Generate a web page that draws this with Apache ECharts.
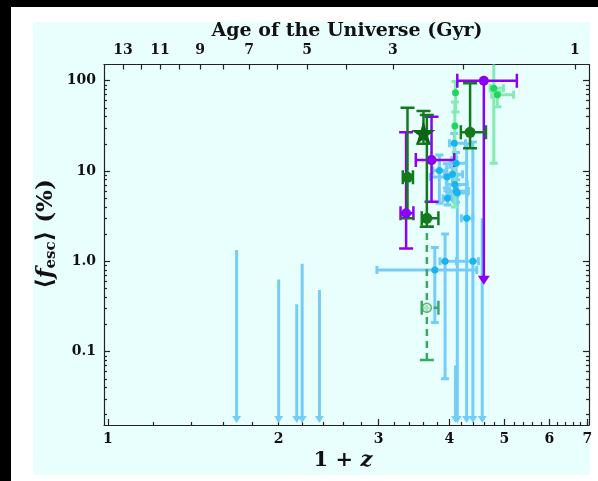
<!DOCTYPE html>
<html><head><meta charset="utf-8">
<script src="https://cdn.jsdelivr.net/npm/echarts@6/dist/echarts.min.js"></script>
<style>html,body{margin:0;padding:0;background:#000;}#bgw{position:absolute;left:11px;top:7px;width:587px;height:474px;background:#fff;}#bgc{position:absolute;left:33px;top:22px;width:557px;height:453px;background:#e8fffe;}#c{position:absolute;left:0;top:0;width:598px;height:481px;}</style>
</head><body><div id="bgw"></div><div id="bgc"></div><div id="c"></div>
<script>
// ---- data ----
const xMajor = [1, 2, 3, 4, 5, 6, 7];
const xMinor = [1.2,1.4,1.6,1.8,2.2,2.4,2.6,2.8,3.2,3.4,3.6,3.8,4.2,4.4,4.6,4.8,5.2,5.4,5.6,5.8,6.2,6.4,6.6,6.8,7.0];
const yMajor = [0.1, 1, 10, 100];
const yMinor = [0.02,0.03,0.04,0.05,0.06,0.07,0.08,0.09,0.2,0.3,0.4,0.5,0.6,0.7,0.8,0.9,2,3,4,5,6,7,8,9,20,30,40,50,60,70,80,90];
const ageValues = [13, 12, 11, 10, 9, 8, 7, 6, 5, 4, 3, 2, 1];
const ageAt1pz = [1.063, 1.143, 1.235, 1.334, 1.453, 1.595, 1.774, 1.987, 2.244, 2.63, 3.18, 4.23, 6.66];
const ageLabeled = [13, 11, 9, 7, 5, 3, 1];

// light blue points with error bars (x = 1+z, y = <fesc> %)
const blueX    = [4.08, 4.11, 3.84, 3.96, 4.05, 4.09, 4.11, 4.13, 3.97, 4.29, 3.93, 4.40, 3.77];
const blueY    = [20.3, 12.2, 10.1, 8.6, 9.2, 7.1, 6.0, 5.7, 5.0, 3.0, 1.0, 1.0, 0.80];
const blueXLo  = [4.00, 4.02, 3.74, 3.70, 3.92, 3.95, 3.96, 4.00, 3.90, 4.20, 3.85, 4.12, 2.98];
const blueXHi  = [4.27, 4.29, 3.95, 4.12, 4.22, 4.30, 4.32, 4.30, 4.05, 4.40, 4.12, 4.50, 4.47];
const blueYLo  = [14, 9, 4.4, 6.5, 7, 5.3, 4.5, 0.0162, 4.2, 0.0162, 0.05, 0.0162, 0.21];
const blueYHi  = [26, 16, 15, 12, 11, 9, 8, 7, 6, 20, 2.0, 21, 1.42];
const blueArrow= [0, 0, 0, 0, 0, 0, 0, 1, 0, 1, 0, 1, 0];
// light blue upper limits (no detection)
const blueLimX   = [1.686, 2.00, 2.152, 2.20, 2.36, 4.57, 4.10];
const blueLimTop = [1.33, 0.63, 0.334, 0.94, 0.48, 3.0, 0.07];
const arrowFloor = 0.0162;

// light green points
const lgX   = [4.10, 4.09, 4.79, 4.86];
const lgY   = [73.6, 31.5, 82.4, 70];
const lgXLo = [4.10, 4.09, 4.72, 4.75];
const lgXHi = [4.10, 4.09, 4.98, 5.19];
const lgYLo = [45, 4.0, 12.2, 51.5];
const lgYHi = [98, 58, 300, 75.5];

// dark green points
const dgX   = [4.35, 3.374, 3.65];
const dgY   = [26.8, 8.5, 2.99];
const dgXLo = [4.19, 3.31, 3.575];
const dgXHi = [4.64, 3.45, 3.825];
const dgYLo = [17.8, 3.0, 2.42];
const dgYHi = [93.6, 50.2, 41.6];
// dark green star
const starX = [3.60], starY = [26.5], starYLo = [20], starYHi = [46];
// open circle with dashed error bar
const openX = [3.65], openY = [0.306], openXLo = [3.575], openXHi = [3.825], openYLo = [0.081], openYHi = [2.42];

// purple points
const puX   = [4.60, 3.72, 3.355];
const puY   = [100, 13.2, 3.40];
const puXLo = [4.13, 3.49, 3.28];
const puXHi = [5.26, 4.08, 3.456];
const puYLo = [0.55, 4.57, 1.39];
const puYHi = [100, 39.9, 26.8];
const puArrow = [1, 0, 0];

// ---- colors / build ----
const C_BLUE = '#74cdf7', C_BLUED = '#19b3ee';
const C_LG = '#84ecb2', C_LGD = '#1fd65c';
const C_DG = '#127a1c', C_STAR = '#0b6414', C_PU = '#8c00f5', C_OPEN = '#3aa860';

function rows(xs, ys, xl, xh, yl, yh, ar) {
  return xs.map((x, i) => [x, ys[i], xl ? xl[i] : x, xh ? xh[i] : x, yl ? yl[i] : ys[i], yh ? yh[i] : ys[i], ar ? ar[i] : 0]);
}
function errSeries(data, color, lw, cap, arrowW, arrowL, dash, z) {
  return {
    type: 'custom', xAxisIndex: 0, yAxisIndex: 0, clip: true, z: z, silent: true,
    encode: { x: 0, y: 1 },
    data: data,
    renderItem: function (params, api) {
      const x = api.value(0), y = api.value(1), xl = api.value(2), xh = api.value(3), yl = api.value(4), yh = api.value(5), ar = api.value(6);
      const ch = [];
      const st = { stroke: color, lineWidth: lw, lineDash: dash || null };
      const cst = { stroke: color, lineWidth: lw };
      if (xl !== xh) {
        const a = api.coord([xl, y]), b = api.coord([xh, y]);
        ch.push({ type: 'line', shape: { x1: a[0], y1: a[1], x2: b[0], y2: b[1] }, style: st });
        ch.push({ type: 'line', shape: { x1: a[0], y1: a[1] - cap, x2: a[0], y2: a[1] + cap }, style: cst });
        ch.push({ type: 'line', shape: { x1: b[0], y1: b[1] - cap, x2: b[0], y2: b[1] + cap }, style: cst });
      }
      if (yl !== yh) {
        const a = api.coord([x, yl]), b = api.coord([x, yh]);
        const yEnd = ar ? a[1] - arrowL + 1 : a[1];
        ch.push({ type: 'line', shape: { x1: a[0], y1: yEnd, x2: b[0], y2: b[1] }, style: st });
        if (yh !== y || !ar) ch.push({ type: 'line', shape: { x1: b[0] - cap, y1: b[1], x2: b[0] + cap, y2: b[1] }, style: cst });
        if (ar) {
          ch.push({ type: 'polygon', shape: { points: [[a[0] - arrowW, a[1] - arrowL], [a[0] + arrowW, a[1] - arrowL], [a[0], a[1]]] }, style: { fill: color } });
        } else {
          ch.push({ type: 'line', shape: { x1: a[0] - cap, y1: a[1], x2: a[0] + cap, y2: a[1] }, style: cst });
        }
      }
      return { type: 'group', children: ch };
    }
  };
}
function dotSeries(xs, ys, color, size, symbol, z, border) {
  return {
    type: 'scatter', xAxisIndex: 0, yAxisIndex: 0, z: z, silent: true,
    symbol: symbol || 'circle', symbolSize: size,
    itemStyle: border ? { color: border.fill, borderColor: border.stroke, borderWidth: border.w } : { color: color, opacity: 1, borderWidth: 0 },
    data: xs.map((x, i) => [x, ys[i]])
  };
}

const serifFont = 'DejaVu Serif';
const lblStyle = { fontFamily: serifFont, fontWeight: 'bold', fontSize: 14, color: '#111' };
const AX = { color: '#222', width: 1.2 };
const XMIN = 0.984, XMAX = 7.05, YMIN = 0.0154, YMAX = 151;

function xAx(pos, ticks, tlen, labels, fmt, showLine) {
  return {
    type: 'log', position: pos, min: XMIN, max: XMAX, logBase: 10,
    axisLine: { show: showLine, lineStyle: AX },
    axisTick: { show: true, inside: true, length: tlen, customValues: ticks, lineStyle: AX },
    axisLabel: labels ? Object.assign({ show: true, customValues: labels, formatter: fmt, margin: 7 }, lblStyle) : { show: false },
    splitLine: { show: false }, minorTick: { show: false }
  };
}
function yAx(pos, ticks, tlen, labels, fmt, showLine) {
  return {
    type: 'log', position: pos, min: YMIN, max: YMAX, logBase: 10,
    axisLine: { show: showLine, lineStyle: AX },
    axisTick: { show: true, inside: true, length: tlen, customValues: ticks, lineStyle: AX },
    axisLabel: labels ? Object.assign({ show: true, customValues: labels, formatter: fmt, margin: 8 }, lblStyle) : { show: false },
    splitLine: { show: false }, minorTick: { show: false }
  };
}
const agePosLabeled = ageLabeled.map(a => ageAt1pz[ageValues.indexOf(a)]);
function ageFmt(v) {
  let best = 0, bd = 1e9;
  ageAt1pz.forEach((p, i) => { const d = Math.abs(p - v); if (d < bd) { bd = d; best = i; } });
  return String(ageValues[best]);
}
function yFmt(v) {
  if (Math.abs(v - 1) < 1e-9) return '1.0';
  if (Math.abs(v - 0.1) < 1e-9) return '0.1';
  return String(Math.round(v));
}

const chart = echarts.init(document.getElementById('c'), null, { renderer: 'canvas' });
const option = {
  backgroundColor: 'transparent',
  animation: false,
  grid: { left: 104, top: 64.5, width: 485, height: 360.5, show: false },
  xAxis: [
    xAx('bottom', xMajor, 6, xMajor, v => String(Math.round(v)), true),
    xAx('bottom', xMinor, 3, null, null, false),
    xAx('top', ageAt1pz, 5, agePosLabeled, ageFmt, true)
  ],
  yAxis: [
    yAx('left', yMajor, 6, yMajor, yFmt, true),
    yAx('left', yMinor, 3, null, null, false),
    yAx('right', yMajor, 6, null, null, true),
    yAx('right', yMinor, 3, null, null, false)
  ],
  graphic: [
    { type: 'text', x: 347, y: 31, style: { text: 'Age of the Universe (Gyr)', font: 'bold 19px "DejaVu Serif"', fill: '#111', align: 'center', verticalAlign: 'middle' } },
    { type: 'text', x: 343, y: 461, style: { align: 'center', verticalAlign: 'middle', rich: { a: { fontFamily: serifFont, fontWeight: 'bold', fontSize: 21, fill: '#111' }, z: { fontFamily: serifFont, fontWeight: 'bold', fontStyle: 'italic', fontSize: 21, fill: '#111' } }, text: '{a|1 + }{z|z}' } },
    { type: 'text', x: 46, y: 234, rotation: Math.PI / 2, style: { align: 'center', verticalAlign: 'middle', rich: { a: { fontFamily: serifFont, fontWeight: 'bold', fontSize: 23, fill: '#111' }, f: { fontFamily: serifFont, fontWeight: 'bold', fontStyle: 'italic', fontSize: 23, fill: '#111' }, s: { fontFamily: serifFont, fontWeight: 'bold', fontSize: 15, fill: '#111', padding: [11, 0, 0, 0] } }, text: '{a|⟨}{f|f}{s|esc}{a|⟩ (%)}' } }
  ],
  series: [
    errSeries(rows(blueX, blueY, blueXLo, blueXHi, blueYLo, blueYHi, blueArrow), C_BLUE, 3, 4, 4.5, 7, null, 2),
    errSeries(rows(blueLimX, blueLimTop, null, null, blueLimX.map(() => arrowFloor), null, blueLimX.map(() => 1)).map(r => { r[5] = r[1]; return r; }), C_BLUE, 3, 4, 4.5, 7, null, 2),
    errSeries(rows(lgX, lgY, lgXLo, lgXHi, lgYLo, lgYHi), C_LG, 3, 4, 4.5, 7, null, 3),
    errSeries(rows(openX, openY, openXLo, openXHi, openYLo, openYHi), C_OPEN, 2.5, 7, 5, 8, [7, 5], 4),
    errSeries(rows(puX, puY, puXLo, puXHi, puYLo, puYHi, puArrow), C_PU, 2.5, 7, 6, 9, null, 5),
    errSeries(rows(dgX, dgY, dgXLo, dgXHi, dgYLo, dgYHi), C_DG, 2.5, 7, 5, 8, null, 6),
    errSeries(rows(starX, starY, null, null, starYLo, starYHi), C_DG, 2.5, 7, 5, 8, null, 6),
    dotSeries(blueX, blueY, C_BLUED, 7, 'circle', 10),
    dotSeries(lgX, lgY, C_LGD, 7, 'circle', 10),
    dotSeries(openX, openY, C_OPEN, 9, 'circle', 11, { fill: '#c8f0d8', stroke: C_OPEN, w: 1.5 }),
    dotSeries(puX, puY, C_PU, 10, 'circle', 11),
    dotSeries(dgX, dgY, C_DG, 11, 'circle', 12),
    dotSeries(starX, starY, C_STAR, 24, 'path://M50,0 L61,35 L98,35 L68,57 L79,91 L50,70 L21,91 L32,57 L2,35 L39,35 Z', 13)
  ]
};
chart.setOption(option);
</script>
</body></html>
